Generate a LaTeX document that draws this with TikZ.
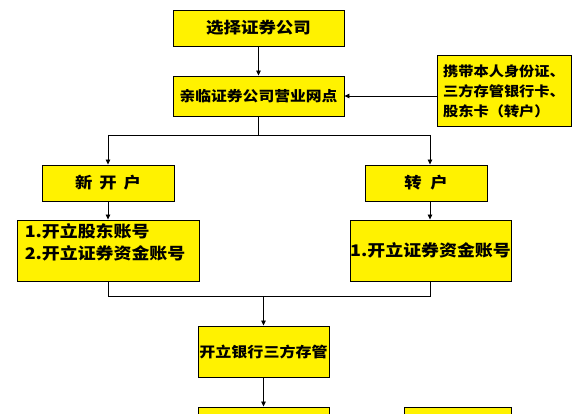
\documentclass[tikz,border=0pt]{standalone}
\usepackage{fontspec}
\newfontfamily\cjk[FakeStretch=1.12]{Noto Sans CJK SC}
\usetikzlibrary{arrows.meta}

\begin{document}
\begin{tikzpicture}[x=1pt,y=-1pt,
		box/.style={draw=black, fill=yellow, line width=0.9pt, inner sep=0pt, font=\cjk\bfseries},
		arr/.style={-{Triangle[length=5pt,width=4.5pt]}, line width=0.8pt},
		ln/.style={line width=0.8pt}]
		\useasboundingbox (0,0) rectangle (581,414);
		
		% 第一行
		\node[box, minimum width=171, minimum height=36, font=\cjk\bfseries\fontsize{15.6}{17}\selectfont] (sel) at (258.5,28) {选择证券公司};
		\node[box, minimum width=171, minimum height=40, font=\cjk\bfseries\fontsize{14.1}{16}\selectfont] (visit) at (258.5,96) {亲临证券公司营业网点};
		\node[box, minimum width=134, minimum height=71, align=left, font=\cjk\bfseries\fontsize{13.6}{20}\selectfont] (bring) at (504,91) {携带本人身份证、\\三方存管银行卡、\\股东卡（转户）};
		
		% 新开户 / 转户
		\node[box, minimum width=132, minimum height=36, font=\cjk\bfseries\fontsize{15.5}{17}\selectfont] (newacc) at (108,183) {新\;\,开\;\,户};
		\node[box, minimum width=122, minimum height=36, font=\cjk\bfseries\fontsize{15.5}{17}\selectfont] (trans) at (426,183) {转\;\;户};
		\node[box, minimum width=182, minimum height=61,
			label={[anchor=north west, inner sep=0pt, align=left, xshift=8pt, yshift=-3.5pt, font=\cjk\bfseries\fontsize{16}{22.5}\selectfont]north west:{1.开立股东账号\\2.开立证券资金账号}}] (openL) at (108,250.5) {};
		\node[box, minimum width=161, minimum height=61, font=\cjk\bfseries\fontsize{16}{22}\selectfont] (openR) at (430.5,250.5) {1.开立证券资金账号};
		
		% 三方存管
		\node[box, minimum width=131, minimum height=51, font=\cjk\bfseries\fontsize{14.3}{16}\selectfont] (bank) at (263.5,351.5) {开立银行三方存管};
		\node[box, minimum width=131, minimum height=40] (nextL) at (263.5,427) {};
		\node[box, minimum width=107, minimum height=40] (nextR) at (457.5,427) {};
		
		% 分支与汇合点
		\coordinate (splitL) at (108,135);
		\coordinate (splitR) at (430,135);
		\coordinate (joinL) at (108,296);
		\coordinate (joinR) at (430,296);
		
		% 连线
		\draw[arr] (sel) -- (visit);
		\draw[arr] (bring.west |- visit.east) -- (visit.east);
		\draw[ln] (visit.south) -- (visit.south |- splitL);
		\draw[ln] (splitL) -- (splitR);
		\draw[arr] (splitL) -- (newacc.north);
		\draw[arr] (splitR) -- (splitR |- trans.north);
		\draw[arr] (newacc) -- (openL);
		\draw[arr] (splitR |- trans.south) -- (splitR |- openR.north);
		\draw[ln] (openL.south) -- (joinL) -- (joinR) -- (joinR |- openR.south);
		\draw[arr] (bank.north |- joinL) -- (bank.north);
		\draw[arr] (bank) -- (nextL);
		
	\end{tikzpicture}
\end{document}
